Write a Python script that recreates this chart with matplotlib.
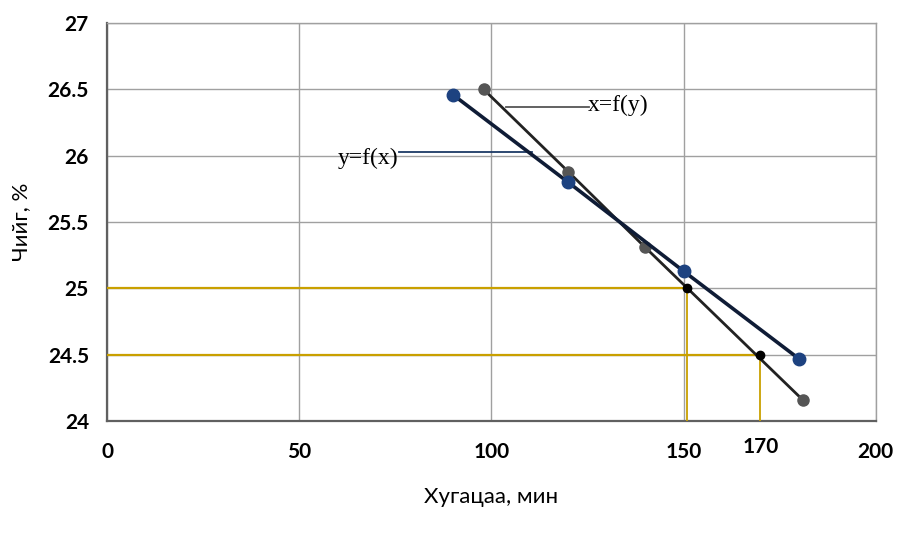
import matplotlib
matplotlib.use("Agg")
import matplotlib.pyplot as plt

# Data
x_yfx = [90, 120, 150, 180]
y_yfx = [26.46, 25.80, 25.13, 24.47]
x_xfy = [98, 120, 140, 181]
y_xfy = [26.50, 25.88, 25.31, 24.16]
gold_x = [151, 170]
gold_y = [25.0, 24.5]
x_ticks = [0, 50, 100, 150, 200]
y_ticks = [24, 24.5, 25, 25.5, 26, 26.5, 27]
y_tick_labels = ["24", "24.5", "25", "25.5", "26", "26.5", "27"]
x_label = "Хугацаа, мин"
y_label = "Чийг, %"
label_yfx = "y=f(x)"
label_xfy = "x=f(y)"
extra_tick = "170"

plt.rcParams['font.family'] = ['Lato', 'DejaVu Sans']

fig = plt.figure(figsize=(9.15, 5.37), dpi=100)
ax = fig.add_axes([0.117, 0.216, 0.840, 0.741])
ax.set_xlim(0, 200)
ax.set_ylim(24, 27)
ax.set_xticks(x_ticks)
ax.set_yticks(y_ticks)
ax.set_yticklabels(y_tick_labels)
ax.grid(True, color="#a0a0a0", linewidth=1.0)
ax.set_axisbelow(True)
for s in ["left", "bottom"]:
    ax.spines[s].set_color("#606060")
    ax.spines[s].set_linewidth(1.6)
for s in ["right", "top"]:
    ax.spines[s].set_color("#a0a0a0")
    ax.spines[s].set_linewidth(1.0)
ax.tick_params(length=0, labelsize=15)
ax.tick_params(axis="y", pad=13)
ax.tick_params(axis="x", pad=15)
for lab in ax.get_xticklabels() + ax.get_yticklabels():
    lab.set_fontweight("bold")

gold = "#c9a000"
for gx, gy in zip(gold_x, gold_y):
    ax.plot([0, gx], [gy, gy], color=gold, linewidth=1.6, zorder=3)
    ax.plot([gx, gx], [24, gy], color=gold, linewidth=1.3, zorder=3)

ax.plot(x_xfy, y_xfy, color="#222222", linewidth=2.0, marker="o",
        markersize=8, markerfacecolor="#555555", markeredgecolor="#555555", zorder=4)
ax.plot(x_yfx, y_yfx, color="#0f1c36", linewidth=2.6, marker="o",
        markersize=9, markerfacecolor="#1d4280", markeredgecolor="#1d4280", zorder=5)
ax.plot(gold_x, gold_y, linestyle="none", marker="o", markersize=6,
        color="#000000", zorder=6)

# annotations
ax.plot([76, 110.6], [26.03, 26.03], color="#1d3a66", linewidth=1.3, zorder=3)
ax.text(67.8, 25.98, label_yfx, ha="center", va="center", fontsize=17,
        family="Liberation Serif", zorder=6)
ax.plot([103.9, 125.5], [26.37, 26.37], color="#555555", linewidth=1.3, zorder=3)
ax.text(125.0, 26.38, label_xfy, ha="left", va="center", fontsize=17,
        family="Liberation Serif", zorder=6)

ax.text(170, 23.88, extra_tick, ha="center", va="top", fontsize=15,
        fontweight="bold")

ax.set_xlabel(x_label, fontsize=16, labelpad=18)
ax.set_ylabel(y_label, fontsize=16, labelpad=12)

fig.savefig("out.png", dpi=100)
